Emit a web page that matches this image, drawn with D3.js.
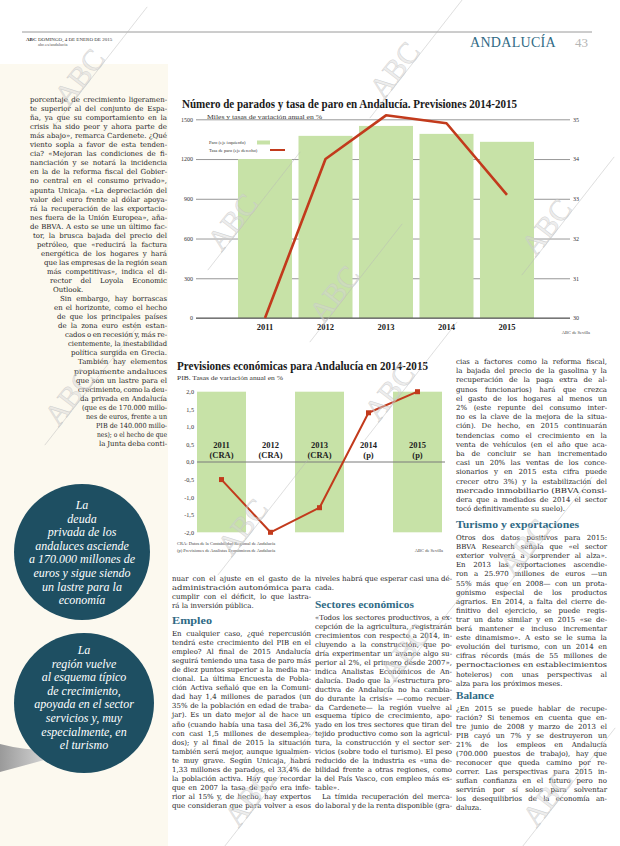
<!DOCTYPE html>
<html><head><meta charset="utf-8">
<script src="https://cdnjs.cloudflare.com/ajax/libs/d3/7.8.5/d3.min.js"></script>
<style>body{margin:0;background:#fff}svg{display:block}</style>
</head><body>
<script>
// ---------- DATA ----------
const years = ["2011", "2012", "2013", "2014", "2015"];
const parados = [1200, 1375, 1450, 1390, 1330];          // miles (eje izquierdo)
const tasaParo = [30.0, 34.0, 35.1, 34.9, 33.1];          // % (eje derecho)
const leftTicks = [0, 300, 600, 900, 1200, 1500];
const rightTicks = [30, 31, 32, 33, 34, 35];

const pibYears = ["2011", "2012", "2013", "2014", "2015"];
const pibTags = ["(CRA)", "(CRA)", "(CRA)", "(p)", "(p)"];
const pibValues = [-0.5, -2.0, -1.3, 1.4, 2.0];
const pibTicks = [2.0, 1.5, 1.0, 0.5, 0.0, -0.5, -1.0, -1.5, -2.0];

// ---------- TEXT ----------
const col1 = ["porcentaje de crecimiento ligeramen-","te superior al del conjunto de Espa-","ña, ya que su comportamiento en la","crisis ha sido peor y ahora parte de","más abajo», remarca Cardenete. ¿Qué","viento sopla a favor de esta tenden-","cia? «Mejoran las condiciones de fi-","nanciación y se notará la incidencia","en la de la reforma fiscal del Gobier-","no central en el consumo privado»,","apunta Unicaja. «La depreciación del","valor del euro frente al dólar apoya-","rá la recuperación de las exportacio-","nes fuera de la Unión Europea», aña-","de BBVA. A esto se une un último fac-","tor, la brusca bajada del precio del","petróleo, que «reducirá la factura","energética de los hogares y hará","que las empresas de la región sean","más competitivas», indica el di-","rector del Loyola Economic","Outlook.¶","Sin embargo, hay borrascas","en el horizonte, como el hecho","de que los principales países","de la zona euro estén estan-","cados o en recesión y, más re-","cientemente, la inestabilidad","política surgida en Grecia.","También hay elementos","propiamente andaluces","que son un lastre para el","crecimiento, como la deu-","da privada en Andalucía","(que es de 170.000 millo-","nes de euros, frente a un","PIB de 140.000 millo-","nes); o el hecho de que","la Junta deba conti-"];
const col1Lefts = [30,30,30,30,30,30,30,30,30,30,30,30,30,30,30,33,37,41,44,47,50,53,60,54,57,58,65,68,71,78,74,76,78,80,82,86,96,97,99];

const col2a = ["nuar con el ajuste en el gasto de la","administración autonómica para","cumplir con el déficit, lo que lastra-","rá la inversión pública.¶"];
const col2b = ["En cualquier caso, ¿qué repercusión","tendrá este crecimiento del PIB en el","empleo? Al final de 2015 Andalucía","seguirá teniendo una tasa de paro más","de diez puntos superior a la media na-","cional. La última Encuesta de Pobla-","ción Activa señaló que en la Comuni-","dad hay 1,4 millones de parados (un","35% de la población en edad de traba-","jar). Es un dato mejor al de hace un","año (cuando había una tasa del 36,2%","con casi 1,5 millones de desemplea-","dos); y al final de 2015 la situación","también será mejor, aunque igualmen-","te muy grave. Según Unicaja, habrá","1,33 millones de parados, el 33,4% de","la población activa. Hay que recordar","que en 2007 la tasa de paro era infe-","rior al 15% y, de hecho, hay expertos","que consideran que para volver a esos"];
const col3a = ["niveles habrá que esperar casi una dé-","cada.¶"];
const col3b = ["«Todos los sectores productivos, a ex-","cepción de la agricultura, registrarán","crecimientos con respecto a 2014, in-","cluyendo a la construcción, que po-","dría experimentar un avance algo su-","perior al 2%, el primero desde 2007»,","indica Analistas Económicos de An-","dalucía. Dado que la «estructura pro-","ductiva de Andalucía no ha cambia-","do durante la crisis» —como recuer-","da Cardenete— la región vuelve al","esquema típico de crecimiento, apo-","yado en los tres sectores que tiran del","tejido productivo como son la agricul-","tura, la construcción y el sector ser-","vicios (sobre todo el turismo). El peso","reducido de la industria es «una de-","bilidad frente a otras regiones, como","la del País Vasco, con empleo más es-","table».¶","\tLa tímida recuperación del merca-","do laboral y de la renta disponible (gra-"];
const col4a = ["cias a factores como la reforma fiscal,","la bajada del precio de la gasolina y la","recuperación de la paga extra de al-","gunos funcionarios) hará que crezca","el gasto de los hogares al menos un","2% (este repunte del consumo inter-","no es la clave de la mejora de la situa-","ción). De hecho, en 2015 continuarán","tendencias como el crecimiento en la","venta de vehículos (en el año que aca-","ba de concluir se han incrementado","casi un 20% las ventas de los conce-","sionarios y en 2015 esta cifra puede","crecer otro 3%) y la estabilización del","mercado inmobiliario (BBVA consi-","dera que a mediados de 2014 el sector","tocó definitivamente su suelo).¶"];
const col4b = ["Otros dos datos positivos para 2015:","BBVA Research señala que «el sector","exterior volverá a sorprender al alza».","En 2013 las exportaciones ascendie-","ron a 25.970 millones de euros —un","55% más que en 2008— con un prota-","gonismo especial de los productos","agrarios. En 2014, a falta del cierre de-","finitivo del ejercicio, se puede regis-","trar un dato similar y en 2015 «se de-","berá mantener e incluso incrementar","este dinamismo». A esto se le suma la","evolución del turismo, con un 2014 en","cifras récords (más de 55 millones de","pernoctaciones en establecimientos","hoteleros) con unas perspectivas al","alza para los próximos meses.¶"];
const col4c = ["¿En 2015 se puede hablar de recupe-","ración? Si tenemos en cuenta que en-","tre junio de 2008 y marzo de 2013 el","PIB cayó un 7% y se destruyeron un","21% de los empleos en Andalucía","(700.000 puestos de trabajo), hay que","reconocer que queda camino por re-","correr. Las perspectivas para 2015 in-","suflan confianza en el futuro pero no","servirán por sí solos para solventar","los desequilibrios de la economía an-","daluza.¶"];
const quote1 = ["La","deuda","privada de los","andaluces asciende","a 170.000 millones de","euros y sigue siendo","un lastre para la","economía"];
const quote2 = ["La","región vuelve","al esquema típico","de crecimiento,","apoyada en el sector","servicios y, muy","especialmente, en","el turismo"];

// ---------- DRAW ----------
const W = 620, H = 846;
const SERIF = "'Liberation Serif', 'Times New Roman', serif";
const BODY = "'DejaVu Serif', serif";
const RED = "#c23a1c", GREEN = "#c7e2a7", TEAL = "#2f6a85", CIRC = "#1e4f62";

const svg = d3.select("body").append("svg").attr("width", W).attr("height", H)
  .style("font-family", SERIF);
svg.append("rect").attr("width", W).attr("height", H).attr("fill", "#fff");
svg.append("rect").attr("x", 0).attr("y", 64).attr("width", 168).attr("height", H - 64).attr("fill", "#fcf9ef");

// header
svg.append("line").attr("x1", 22).attr("x2", 592).attr("y1", 32).attr("y2", 32).attr("stroke", "#9a9a9a").attr("stroke-width", 1);
svg.append("text").attr("x", 26).attr("y", 41).attr("font-size", 5).attr("font-weight", "bold").attr("fill", "#333").text("ABC");
svg.append("text").attr("x", 38).attr("y", 41).attr("font-size", 5).attr("fill", "#333").text("DOMINGO, 4 DE ENERO DE 2015");
svg.append("text").attr("x", 38).attr("y", 46).attr("font-size", 4.5).attr("fill", "#555").text("abc.es/andalucia");
svg.append("text").attr("x", 470).attr("y", 47).attr("font-size", 14).attr("fill", TEAL).attr("letter-spacing", 0.3).text("ANDALUCÍA");
svg.append("text").attr("x", 575).attr("y", 47).attr("font-size", 13).attr("fill", "#b5b5b5").text("43");

// text helper
function para(lines, opt) {
  const g = svg.append("g").attr("font-family", BODY).attr("font-size", opt.size || 7).attr("fill", "#262626");
  lines.forEach((raw, i) => {
    let s = raw, justify = true, indent = 0;
    if (s.endsWith("¶")) { s = s.slice(0, -1); justify = false; }
    if (s.startsWith("\t")) { s = s.slice(1); indent = 7; }
    const left = (opt.lefts ? opt.lefts[i] : opt.x0) + indent;
    const t = g.append("text").attr("x", left).attr("y", opt.y0 + i * opt.lh).text(s);
    if (justify) {
      const target = opt.x1 - left;
      const nat = t.node().getComputedTextLength();
      const spaces = (s.match(/ /g) || []).length;
      const ws = spaces ? (target - nat) / spaces : -99;
      if (ws > -1.0 && ws < 8) t.style("word-spacing", ws + "px");
      else t.attr("textLength", target).attr("lengthAdjust", "spacingAndGlyphs");
    } else {
      const nat = t.node().getComputedTextLength();
      if (nat > opt.x1 - left) t.attr("textLength", opt.x1 - left).attr("lengthAdjust", "spacingAndGlyphs");
    }
  });
}
function heading(txt, x, y, w) {
  svg.append("text").attr("x", x).attr("y", y).attr("font-size", 11).attr("font-weight", "bold")
    .attr("fill", TEAL).attr("textLength", w).attr("lengthAdjust", "spacingAndGlyphs").text(txt);
}

para(col1, { lefts: col1Lefts, x1: 167, y0: 102, lh: 9.05 });
para(col2a, { x0: 172, x1: 311, y0: 581, lh: 9.05 });
heading("Empleo", 172, 624, 40);
para(col2b, { x0: 172, x1: 311, y0: 636, lh: 9.05 });
para(col3a, { x0: 315, x1: 452, y0: 581, lh: 9.05 });
heading("Sectores económicos", 315, 608, 99);
para(col3b, { x0: 315, x1: 452, y0: 620, lh: 8.95 });
para(col4a, { x0: 456, x1: 607, y0: 364, lh: 9.2 });
heading("Turismo y exportaciones", 456, 528, 123);
para(col4b, { x0: 456, x1: 607, y0: 540, lh: 9.1 });
heading("Balance", 456, 699, 38);
para(col4c, { x0: 456, x1: 607, y0: 711, lh: 9.0 });

// pull-quote circles
function quote(lines, cx, cy, r, y0) {
  svg.append("circle").attr("cx", cx).attr("cy", cy).attr("r", r).attr("fill", CIRC);
  const g = svg.append("g").attr("fill", "#fff").attr("font-style", "italic").attr("font-size", 12).attr("text-anchor", "middle");
  lines.forEach((l, i) => g.append("text").attr("x", cx).attr("y", y0 + i * 13.6).text(l));
}
// page-curl shadow
const defs = svg.append("defs");
const gr = defs.append("linearGradient").attr("id", "curl").attr("x1", 0).attr("x2", 1);
gr.append("stop").attr("offset", 0).attr("stop-color", "#9a9a9a");
gr.append("stop").attr("offset", 1).attr("stop-color", "#eeeeee");
svg.append("path").attr("d", "M0,744 Q30,752 66,750 L66,754 Q30,764 0,772 Z").attr("fill", "url(#curl)");
quote(quote1, 82, 552, 68, 509);
quote(quote2, 84, 703, 70, 654);

// ---------- CHART 1 ----------
const c1 = svg.append("g");
const x1 = d3.scaleBand().domain(years).range([238, 534]).paddingInner(0.107).paddingOuter(0);
const yL = d3.scaleLinear().domain([0, 1500]).range([318, 119.3]);
const yR = d3.scaleLinear().domain([30, 35]).range([318, 119.3]);

c1.append("text").attr("x", 182).attr("y", 108).attr("font-size", 12.5).attr("font-weight", "bold").attr("fill", "#1a1a1a")
  .attr("textLength", 335).attr("lengthAdjust", "spacingAndGlyphs")
  .text("Número de parados y tasa de paro en Andalucía. Previsiones 2014-2015");
c1.append("text").attr("x", 207).attr("y", 119).attr("font-size", 6).attr("fill", "#333")
  .attr("textLength", 115).attr("lengthAdjust", "spacingAndGlyphs").text("Miles y tasas de variación anual en %");

const axL = c1.append("g").attr("transform", "translate(196,0)")
  .call(d3.axisLeft(yL).tickValues(leftTicks).tickSize(-374).tickPadding(3).tickFormat(d3.format("d")));
axL.select(".domain").remove();
axL.selectAll("line").attr("stroke", "#8c8c8c").attr("stroke-width", 0.9);
axL.selectAll("text").attr("font-family", SERIF).attr("font-size", 6).attr("fill", "#333");

c1.selectAll("rect.bar").data(years).join("rect").attr("class", "bar")
  .attr("x", d => x1(d)).attr("width", x1.bandwidth())
  .attr("y", (d, i) => yL(parados[i])).attr("height", (d, i) => yL(0) - yL(parados[i]))
  .attr("fill", GREEN);

c1.append("line").attr("x1", 196).attr("x2", 570).attr("y1", yL(0)).attr("y2", yL(0)).attr("stroke", "#555").attr("stroke-width", 1);

const axR = c1.append("g").attr("transform", "translate(570,0)")
  .call(d3.axisRight(yR).tickValues(rightTicks).tickSize(0).tickPadding(3).tickFormat(d3.format("d")));
axR.select(".domain").remove();
axR.selectAll("text").attr("font-family", SERIF).attr("font-size", 6).attr("fill", "#333");

const axB = c1.append("g").attr("transform", `translate(0,${yL(0)})`)
  .call(d3.axisBottom(x1).tickSize(0).tickPadding(6));
axB.select(".domain").remove();
axB.selectAll("text").attr("font-family", SERIF).attr("font-size", 8.5).attr("font-weight", "bold").attr("fill", "#222");

c1.append("path").datum(tasaParo)
  .attr("d", d3.line().x((d, i) => x1(years[i]) + x1.bandwidth() / 2).y(d => yR(d)))
  .attr("fill", "none").attr("stroke", RED).attr("stroke-width", 2.6).attr("stroke-linejoin", "round");

// legend
c1.append("text").attr("x", 209).attr("y", 143.5).attr("font-size", 4.6).attr("fill", "#333").text("Paro (eje izquierdo)");
c1.append("rect").attr("x", 257).attr("y", 140.5).attr("width", 13).attr("height", 4).attr("fill", GREEN);
c1.append("text").attr("x", 209).attr("y", 151.5).attr("font-size", 4.6).attr("fill", "#333").text("Tasa de paro (eje derecho)");
c1.append("line").attr("x1", 270).attr("x2", 285).attr("y1", 150).attr("y2", 150).attr("stroke", RED).attr("stroke-width", 2);
c1.append("text").attr("x", 590).attr("y", 334).attr("text-anchor", "end").attr("font-size", 4.5).attr("fill", "#444").text("ABC de Sevilla");

// ---------- CHART 2 ----------
const c2 = svg.append("g");
const x2 = d3.scaleBand().domain(pibYears).range([197, 442]).padding(0);
const y2 = d3.scaleLinear().domain([-2, 2]).range([532.3, 391.7]);

c2.append("text").attr("x", 177).attr("y", 370).attr("font-size", 12).attr("font-weight", "bold").attr("fill", "#1a1a1a")
  .attr("textLength", 251).attr("lengthAdjust", "spacingAndGlyphs").text("Previsiones económicas para Andalucía en 2014-2015");
c2.append("text").attr("x", 177).attr("y", 379.5).attr("font-size", 6).attr("fill", "#333")
  .attr("textLength", 106).attr("lengthAdjust", "spacingAndGlyphs").text("PIB. Tasas de variación anual en %");

c2.selectAll("rect.band").data(pibYears.filter((d, i) => i % 2 === 0)).join("rect").attr("class", "band")
  .attr("x", d => x2(d)).attr("width", x2.bandwidth())
  .attr("y", y2(2)).attr("height", y2(-2) - y2(2)).attr("fill", GREEN);

const fmt = d => d3.format(".1f")(d).replace(".", ",").replace("−", "-");
const ax2 = c2.append("g").attr("transform", "translate(197,0)")
  .call(d3.axisLeft(y2).tickValues(pibTicks).tickSize(0).tickPadding(3).tickFormat(fmt));
ax2.select(".domain").remove();
ax2.selectAll("text").attr("font-family", SERIF).attr("font-size", 6.2).attr("fill", "#333");

c2.append("line").attr("x1", 197).attr("x2", 445).attr("y1", y2(0)).attr("y2", y2(0)).attr("stroke", "#7a7a7a").attr("stroke-width", 1);

const lab = c2.append("g").attr("font-size", 8.5).attr("font-weight", "bold").attr("fill", "#222").attr("text-anchor", "middle");
pibYears.forEach((d, i) => {
  lab.append("text").attr("x", x2(d) + x2.bandwidth() / 2).attr("y", 448).text(d);
  lab.append("text").attr("x", x2(d) + x2.bandwidth() / 2).attr("y", 458).text(pibTags[i]);
});

c2.append("path").datum(pibValues)
  .attr("d", d3.line().x((d, i) => x2(pibYears[i]) + x2.bandwidth() / 2).y(d => y2(d)))
  .attr("fill", "none").attr("stroke", RED).attr("stroke-width", 2).attr("stroke-linejoin", "round");
c2.selectAll("rect.mk").data(pibValues).join("rect").attr("class", "mk")
  .attr("x", (d, i) => x2(pibYears[i]) + x2.bandwidth() / 2 - 2.5).attr("y", d => y2(d) - 2.5)
  .attr("width", 5).attr("height", 5).attr("fill", RED);

c2.append("text").attr("x", 177).attr("y", 545).attr("font-size", 4.5).attr("fill", "#444").text("CRA: Datos de la Contabilidad Regional de Andalucía");
c2.append("text").attr("x", 177).attr("y", 551.5).attr("font-size", 4.5).attr("fill", "#444").text("(p) Previsiones de Analistas Económicos de Andalucía");
c2.append("text").attr("x", 443).attr("y", 551.5).attr("text-anchor", "end").attr("font-size", 4.5).attr("fill", "#444").text("ABC de Sevilla");

// ---------- WATERMARKS ----------
const marks = [[80, 75], [395, 68], [233, 220], [547, 225], [335, 292], [390, 390], [243, 525], [70, 395], [525, 545], [405, 650], [250, 796], [548, 796]];
const wm = svg.append("g").attr("pointer-events", "none");
marks.forEach(([x, y]) => {
  const g = wm.append("g").attr("transform", `translate(${x},${y}) rotate(-52)`);
  g.append("line").attr("x1", -55).attr("x2", 95).attr("y1", 11).attr("y2", 11).attr("stroke", "#b8b8b8").attr("stroke-width", 0.6).attr("opacity", 0.7);
  g.append("text").attr("x", -2).attr("y", 11).attr("text-anchor", "middle").attr("font-size", 30)
    .attr("fill", "#d6d6d6").attr("fill-opacity", 0.45).attr("stroke", "#c4c4c4").attr("stroke-width", 0.5).attr("stroke-opacity", 0.7).text("ABC");
});
</script>
</body></html>
